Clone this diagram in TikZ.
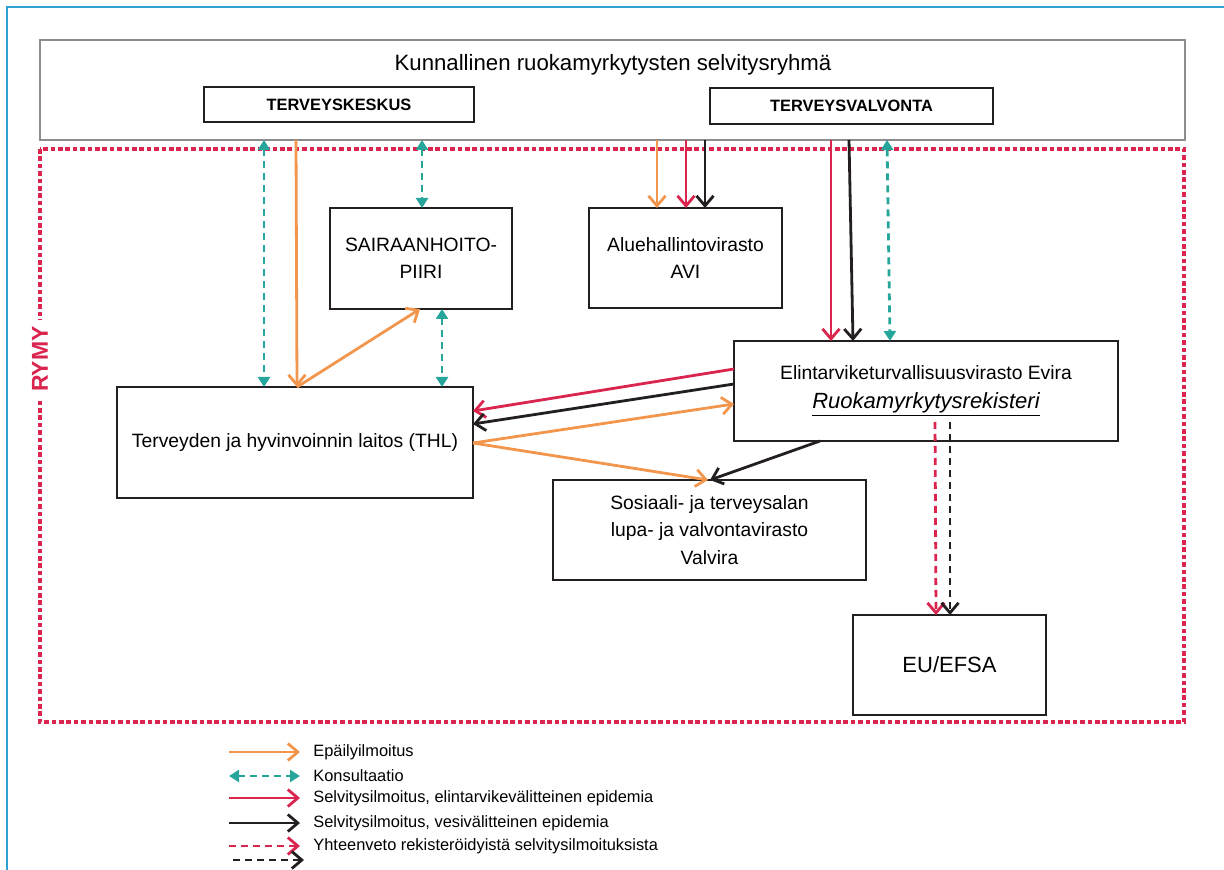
\documentclass[tikz,border=0pt]{standalone}
\usepackage{fontspec}
\setmainfont{Liberation Sans}
\usetikzlibrary{arrows.meta,calc}

\definecolor{epaorange}{RGB}{242,150,77}
\definecolor{konsteal}{RGB}{38,166,154}
\definecolor{rymyred}{RGB}{218,37,79}
\definecolor{vesiblack}{RGB}{35,31,32}
\definecolor{kuntagray}{RGB}{140,140,140}
\definecolor{frameblue}{RGB}{48,160,210}

\begin{document}
\begin{tikzpicture}[x=0.5pt,y=-0.5pt,
    box/.style={draw=vesiblack,line width=0.9pt,inner sep=0pt,outer sep=0pt,
      align=center,font=\fontsize{9.65}{13.5}\selectfont},
    barb/.style={line width=1.4pt,-{Straight Barb[length=5pt,width=8.5pt]}},
    epail/.style={barb,draw=epaorange},
    selvr/.style={barb,draw=rymyred},
    selvv/.style={barb,draw=vesiblack},
    yhtr/.style={selvr,dash pattern=on 3.5pt off 2.5pt},
    yhtv/.style={selvv,dash pattern=on 3.5pt off 2.5pt},
    konsult/.style={line width=1.4pt,draw=konsteal,dash pattern=on 3.5pt off 2.5pt,
      {Triangle[length=5pt,width=6pt]}-{Triangle[length=5pt,width=6pt]}}]
  \useasboundingbox (0,0) rectangle (1224,870);
  \draw[frameblue,line width=0.75pt] (7,870) -- (7,7) -- (1224,7);

  %%%%%%%%%%%%%%%%%%%%%%%%%%%%%%%%%%%%%%%%%%%%%%%%%%%%%%%%%%%%%%%%%%%%%%%%%%%
  %%%%  RYMY
  \draw[rymyred,line width=2.3pt,dash pattern=on 2.3pt off 1.4pt] (40,149) rectangle (1184,722);
  \node[rotate=90,fill=white,text=rymyred,inner sep=3pt,
    font=\bfseries\fontsize{11.5}{13}\selectfont] (rymy) at (40,359) {RYMY};

  %%%%%%%%%%%%%%%%%%%%%%%%%%%%%%%%%%%%%%%%%%%%%%%%%%%%%%%%%%%%%%%%%%%%%%%%%%%
  %%%%  Boxes
  \node[draw=kuntagray,line width=1.3pt,inner sep=0pt,outer sep=0pt,
    minimum width=572.5pt,minimum height=50pt] (kunta) at (612.5,90) {};
  \node[font=\fontsize{11.1}{13}\selectfont] (kuntanimi) at (613,65)
    {Kunnallinen ruokamyrkytysten selvitysryhmä};
  \node[box,font=\bfseries\fontsize{8.2}{10}\selectfont,minimum width=135pt,
    minimum height=17.5pt] (tk) at (339,104.5) {TERVEYSKESKUS};
  \node[box,font=\bfseries\fontsize{8.2}{10}\selectfont,minimum width=141.5pt,
    minimum height=18pt] (tv) at (851.5,106) {TERVEYSVALVONTA};

  \node[box,minimum width=91pt,minimum height=50.5pt] (shp) at (421,258.5)
    {SAIRAANHOITO-\\PIIRI};
  \node[box,minimum width=96.5pt,minimum height=50pt] (avi) at (685.5,258)
    {Aluehallintovirasto\\AVI};
  \node[box,minimum width=192pt,minimum height=50pt,
    font=\fontsize{9.65}{14.5}\selectfont] (evira) at (926,391)
    {Elintarviketurvallisuusvirasto Evira\\{\fontsize{11}{14.5}\selectfont\itshape\underline{Ruokamyrkytysrekisteri}}};
  \node[box,minimum width=178pt,minimum height=55.5pt] (thl) at (295,442.5)
    {Terveyden ja hyvinvoinnin laitos (THL)};
  \node[box,minimum width=156.5pt,minimum height=50pt,
    font=\fontsize{9.65}{13.75}\selectfont] (valvira) at (709.5,530)
    {Sosiaali- ja terveysalan\\lupa- ja valvontavirasto\\Valvira};
  \node[box,minimum width=96.5pt,minimum height=50pt,
    font=\fontsize{11}{13}\selectfont] (eu) at (949.5,665) {EU/EFSA};

  %%%%%%%%%%%%%%%%%%%%%%%%%%%%%%%%%%%%%%%%%%%%%%%%%%%%%%%%%%%%%%%%%%%%%%%%%%%
  %%%%  Connectors
  \draw[konsult] ($(kunta.south west)+(224,0)$) -- ($(thl.north west)+(147,0)$);
  \draw[epail] ($(kunta.south west)+(256,0)$) -- ($(thl.north west)+(180,0)$);
  \draw[epail] ($(thl.north west)+(180,0)$) -- ($(shp.south west)+(90,0)$);
  \draw[konsult] ($(kunta.south west)+(382,0)$) -- ($(shp.north west)+(92,0)$);
  \draw[konsult] ($(shp.south west)+(112,0)$) -- ($(thl.north west)+(325,0)$);

  \draw[epail] ($(kunta.south west)+(617,0)$) -- ($(avi.north west)+(68,0)$);
  \draw[selvr] ($(kunta.south west)+(646,0)$) -- ($(avi.north west)+(97,0)$);
  \draw[selvv] ($(kunta.south west)+(665,0)$) -- ($(avi.north west)+(116,0)$);

  \draw[selvr] ($(kunta.south west)+(791,0)$) -- ($(evira.north west)+(97,0)$);
  \draw[selvv] ($(kunta.south west)+(809,0)$) -- ($(evira.north west)+(119,0)$);
  \draw[konsult] ($(kunta.south west)+(847,0)$) -- ($(evira.north west)+(156,0)$);

  \draw[selvr] ($(evira.north west)+(0,28)$) -- ($(thl.north east)+(0,24)$);
  \draw[selvv] ($(evira.north west)+(0,43)$) -- ($(thl.north east)+(0,37)$);
  \draw[epail] ($(thl.north east)+(0,56)$) -- ($(evira.north west)+(0,63)$);
  \draw[epail] ($(thl.north east)+(0,56)$) -- ($(valvira.north west)+(155,0)$);
  \draw[selvv] ($(evira.south west)+(86,0)$) -- ($(valvira.north west)+(157,0)$);

  \draw[yhtr] ($(evira.south west)+(201,-19)$) -- ($(eu.north west)+(83,0)$);
  \draw[yhtv] ($(evira.south west)+(216,-19)$) -- ($(eu.north west)+(97,0)$);

  %%%%%%%%%%%%%%%%%%%%%%%%%%%%%%%%%%%%%%%%%%%%%%%%%%%%%%%%%%%%%%%%%%%%%%%%%%%
  %%%%  Legend
  \foreach \st/\y/\txt in {epail/752/Epäilyilmoitus, konsult/776/Konsultaatio,
      selvr/798/{Selvitysilmoitus, elintarvikevälitteinen epidemia},
      selvv/823/{Selvitysilmoitus, vesivälitteinen epidemia},
      yhtr/846/{Yhteenveto rekisteröidyistä selvitysilmoituksista}}
  {\coordinate (leg\y a) at (229,\y);
   \coordinate (leg\y b) at (300,\y);
   \draw[\st] (leg\y a) -- (leg\y b);
   \node[anchor=west,inner sep=0pt,font=\fontsize{8.2}{10}\selectfont]
     (legtxt\y) at (313,\y) {\txt};
  };
  \coordinate (leg860a) at (233,860);
  \coordinate (leg860b) at (304,860);
  \draw[yhtv] (leg860a) -- (leg860b);
\end{tikzpicture}
\end{document}
